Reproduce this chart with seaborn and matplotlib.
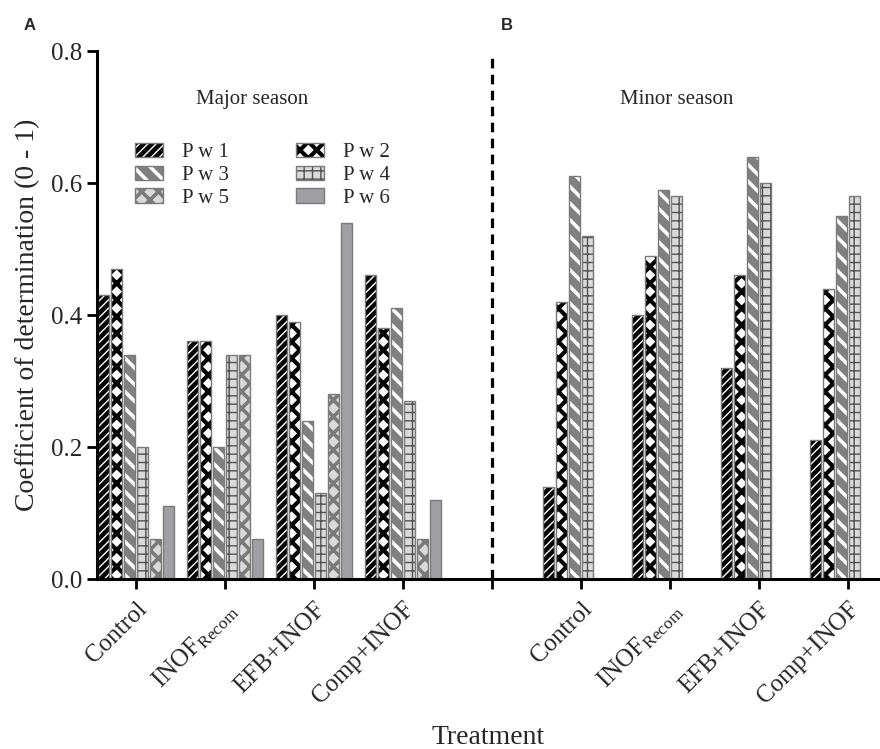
import numpy as np
import pandas as pd
import matplotlib
matplotlib.use("Agg")
import matplotlib.pyplot as plt
import seaborn as sns
from matplotlib.patches import Patch, Rectangle
from matplotlib.legend_handler import HandlerTuple, HandlerPatch
from matplotlib.ticker import FormatStrFormatter

# ---------------- data ----------------
treatments = ["Control", "INOF_Recom", "EFB+INOF", "Comp+INOF"]
tick_labels = ["Control", r"INOF$_{\mathrm{Recom}}$", "EFB+INOF", "Comp+INOF"]
periods = ["P w 1", "P w 2", "P w 3", "P w 4", "P w 5", "P w 6"]

# Major season (values per treatment, one list per period)
major_pw1 = [0.43, 0.36, 0.40, 0.46]
major_pw2 = [0.47, 0.36, 0.39, 0.38]
major_pw3 = [0.34, 0.20, 0.24, 0.41]
major_pw4 = [0.20, 0.34, 0.13, 0.27]
major_pw5 = [0.06, 0.34, 0.28, 0.06]
major_pw6 = [0.11, 0.06, 0.54, 0.12]

# Minor season (only P w 1..4)
minor_pw1 = [0.14, 0.40, 0.32, 0.21]
minor_pw2 = [0.42, 0.49, 0.46, 0.44]
minor_pw3 = [0.61, 0.59, 0.64, 0.55]
minor_pw4 = [0.52, 0.58, 0.60, 0.58]

major = [major_pw1, major_pw2, major_pw3, major_pw4, major_pw5, major_pw6]
minor = [minor_pw1, minor_pw2, minor_pw3, minor_pw4]

rows = []
for pi, vals in enumerate(major):
    for ti, v in enumerate(vals):
        rows.append({"group": "Major|" + treatments[ti], "pw": periods[pi], "value": v})
for pi, vals in enumerate(minor):
    for ti, v in enumerate(vals):
        rows.append({"group": "Minor|" + treatments[ti], "pw": periods[pi], "value": v})
df = pd.DataFrame(rows)

order = ["Major|" + t for t in treatments] + ["gap"] + ["Minor|" + t for t in treatments]
labels = tick_labels + [""] + tick_labels

# ---------------- style ----------------
sns.set_style("ticks")
plt.rcParams["font.family"] = ["Liberation Serif", "DejaVu Serif"]
plt.rcParams["mathtext.fontset"] = "custom"
plt.rcParams["mathtext.rm"] = "Liberation Serif"
plt.rcParams["mathtext.it"] = "Liberation Serif:italic"
plt.rcParams["mathtext.bf"] = "Liberation Serif:bold"

# face, hatch, hatch colour, hatch linewidth
styles = {
    "P w 1": ("#000000", "////", "#ffffff", 1.0),
    "P w 2": ("#ffffff", "xx", "#000000", 3.0),
    "P w 3": ("#808080", "\\\\", "#ffffff", 2.6),
    "P w 4": ("#d9d9d9", "++", "#505050", 1.0),
    "P w 5": ("#d9d9d9", "xx", "#7a7a7a", 2.6),
    "P w 6": ("#a0a0a4", "", "#a0a0a4", 1.0),
}
outline = "#7a7a7a"

fig = plt.figure(figsize=(8.8, 7.49), dpi=100)
ax = fig.add_axes([97 / 880, 170 / 749, 1 - 97 / 880, (579 - 51) / 749])

palette = {p: styles[p][0] for p in periods}
sns.barplot(data=df, x="group", y="value", hue="pw", order=order,
            hue_order=periods, palette=palette, saturation=1,
            width=0.88, gap=0.15, errorbar=None, legend=False, ax=ax)


def style_patch(p, pw):
    face, hatch, hcol, hlw = styles[pw]
    p.set_facecolor(face)
    p.set_edgecolor(hcol)
    p.set_linewidth(0)
    if hatch:
        p.set_hatch(hatch)
        if hasattr(p, "set_hatch_linewidth"):
            p.set_hatch_linewidth(hlw)


for pw, cont in zip(periods, ax.containers):
    for bar in cont:
        style_patch(bar, pw)
        ax.add_patch(Rectangle(bar.get_xy(), bar.get_width(), bar.get_height(),
                               fill=False, edgecolor=outline, linewidth=1.0,
                               zorder=bar.get_zorder() + 0.1))

ax.set_ylim(0, 0.8)
ax.set_xlim(-0.44, 8.36)
ax.set_yticks([0.0, 0.2, 0.4, 0.6, 0.8])
ax.yaxis.set_major_formatter(FormatStrFormatter("%.1f"))
ax.set_xticks(range(len(order)))
ax.set_xticklabels(labels, rotation=45, ha="right", va="top", rotation_mode="anchor", fontsize=18)
ax.tick_params(axis="y", labelsize=18, width=2, length=7, color="black")
ax.tick_params(axis="x", width=2, length=7, color="black", pad=7)
for s in ["top", "right"]:
    ax.spines[s].set_visible(False)
for s in ["left", "bottom"]:
    ax.spines[s].set_linewidth(2.2)
    ax.spines[s].set_color("black")

ax.set_ylabel("Coefficient of determination (0 - 1)", fontsize=20, labelpad=8)
ax.set_xlabel("Treatment", fontsize=20, labelpad=12)

ax.axvline(4, ymin=0, ymax=0.99, color="black", linewidth=2.3, linestyle=(0, (3, 2)))

ax.text(1.30, 0.726, "Major season", ha="center", va="center", fontsize=15)
ax.text(6.08, 0.726, "Minor season", ha="center", va="center", fontsize=15)


def make_patch_func(hlw):
    def patch_func(legend, orig_handle, xdescent, ydescent, width, height, fontsize):
        r = Rectangle((-xdescent, -ydescent), width, height)
        if hasattr(r, "set_hatch_linewidth"):
            r.set_hatch_linewidth(hlw)
        return r
    return patch_func


handle_map = {}
hmap = {}
for pw in periods:
    face, hatch, hcol, hlw = styles[pw]
    h1 = Patch(facecolor=face, edgecolor=hcol, hatch=hatch, linewidth=0)
    h2 = Patch(facecolor="none", edgecolor=outline, linewidth=1.0)
    hmap[h1] = HandlerPatch(patch_func=make_patch_func(hlw))
    handle_map[pw] = (h1, h2)
hmap[tuple] = HandlerTuple(ndivide=1, pad=0)

# row-wise reading order in a 2-column legend (matplotlib fills column-first)
leg_order = periods[0::2] + periods[1::2]
leg = ax.legend([handle_map[p] for p in leg_order], leg_order,
                handler_map=hmap,
                ncol=2, loc="upper left", bbox_to_anchor=(0.049, 0.826),
                frameon=False, fontsize=15, borderpad=0, borderaxespad=0,
                handlelength=1.35, handleheight=0.7, handletextpad=0.9,
                labelspacing=0.15, columnspacing=3.2)

fig.text(30 / 880, 1 - 25 / 749, "A", family="Liberation Sans", fontweight="bold", fontsize=12,
         ha="center", va="center")
fig.text(507 / 880, 1 - 25 / 749, "B", family="Liberation Sans", fontweight="bold", fontsize=12,
         ha="center", va="center")

fig.savefig("out.png", dpi=100)
